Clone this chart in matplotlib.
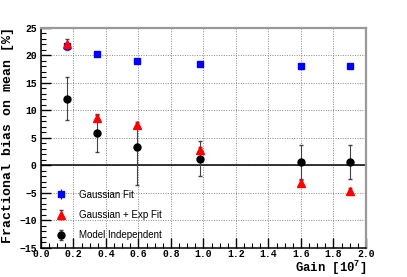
import numpy as np
import matplotlib
matplotlib.use("Agg")
import matplotlib.pyplot as plt
from matplotlib.ticker import MultipleLocator

# =========================================================================================
# Data
# =========================================================================================
gain = [0.16, 0.345, 0.59, 0.98, 1.6, 1.9]

gauss_fit = [21.8, 20.3, 19.0, 18.4, 18.1, 18.0]
gauss_fit_err = [0.2, 0.2, 0.2, 0.2, 0.2, 0.2]

gauss_exp_fit = [22.0, 8.6, 7.4, 2.8, -3.2, -4.6]
gauss_exp_err = [1.0, 0.5, 0.5, 0.5, 0.5, 0.5]

model_indep = [12.1, 5.9, 3.3, 1.2, 0.7, 0.7]
model_err_lo = [3.9, 3.5, 6.8, 3.2, 3.1, 3.1]
model_err_hi = [3.9, 3.5, 4.0, 3.2, 3.1, 3.1]

legend_labels = ["Gaussian Fit", "Gaussian + Exp Fit", "Model Independent"]

plt.rcParams["mathtext.fontset"] = "custom"
plt.rcParams["mathtext.rm"] = "Liberation Mono:bold"


# =========================================================================================
# Draw the chart
# =========================================================================================
def VeBieuDo():
    fig = plt.figure(figsize=(4.07, 2.77), dpi=100)
    ax = fig.add_axes([0.1007, 0.105, 0.7985, 0.794])

    # grid + zero line
    ax.grid(True, which="major", color="#888888", linestyle=(0, (1, 1.5)), linewidth=0.7)
    ax.axhline(0, color="black", linewidth=1.1, zorder=2)

    e1 = ax.errorbar(gain, gauss_fit, yerr=gauss_fit_err, fmt="s", color="#0000ff",
                     ms=5, ecolor="#0000ff", elinewidth=0.8, capsize=0, zorder=4)
    e2 = ax.errorbar(gain, gauss_exp_fit, yerr=gauss_exp_err, fmt="^", color="#ff0000",
                     ms=6, ecolor="#444444", elinewidth=0.8, capsize=1.5, zorder=5)
    e3 = ax.errorbar(gain, model_indep, yerr=[model_err_lo, model_err_hi], fmt="o",
                     color="black", ms=5, ecolor="#444444", elinewidth=0.8, capsize=1.5,
                     zorder=3)

    ax.set_xlim(0, 2.0)
    ax.set_ylim(-15, 25)
    ax.xaxis.set_major_locator(MultipleLocator(0.2))
    ax.xaxis.set_minor_locator(MultipleLocator(0.05))
    ax.yaxis.set_major_locator(MultipleLocator(5))
    ax.yaxis.set_minor_locator(MultipleLocator(1))
    ax.set_axisbelow(True)

    ax.tick_params(which="both", direction="in", top=False, right=False, color="black")
    ax.tick_params(which="major", length=7, width=1.0)
    ax.tick_params(which="minor", length=3.5, width=0.8)
    ax.tick_params(axis="x", which="major", pad=1.0)
    ax.tick_params(axis="y", which="major", pad=3)
    ax.xaxis.set_major_formatter(lambda v, p: "%.1f" % v)
    ax.yaxis.set_major_formatter(lambda v, p: ("%d" % v).replace("-", "\u2212"))
    for lb in ax.get_xticklabels() + ax.get_yticklabels():
        lb.set_family("Liberation Mono")
        lb.set_fontweight("bold")
        lb.set_fontsize(7)

    # ROOT-style frame: black axes, grey top/right frame
    ax.spines["left"].set_color("black")
    ax.spines["bottom"].set_color("black")
    ax.spines["left"].set_linewidth(1.1)
    ax.spines["bottom"].set_linewidth(1.1)
    ax.spines["top"].set_color("#999999")
    ax.spines["right"].set_color("#999999")
    ax.spines["top"].set_linewidth(1.6)
    ax.spines["right"].set_linewidth(1.6)

    ax.legend([e1, e2, e3], legend_labels, loc="center left",
              bbox_to_anchor=(0.035, 0.15), frameon=False, handlelength=1.0,
              handletextpad=1.3, labelspacing=1.05, borderaxespad=0,
              prop={"family": "Liberation Sans", "size": 7})

    fig.text(8 / 407, 1 - 27 / 277, "Fractional bias on mean [%]", rotation=90,
             ha="center", va="top", family="Liberation Mono", fontweight="bold", fontsize=9.5)
    fig.text(367 / 407, 1 - 272 / 277, "Gain [10$^{7}$]", ha="right", va="baseline",
             family="Liberation Mono", fontweight="bold", fontsize=8.8)

    fig.savefig("out.png", dpi=100)


VeBieuDo()
